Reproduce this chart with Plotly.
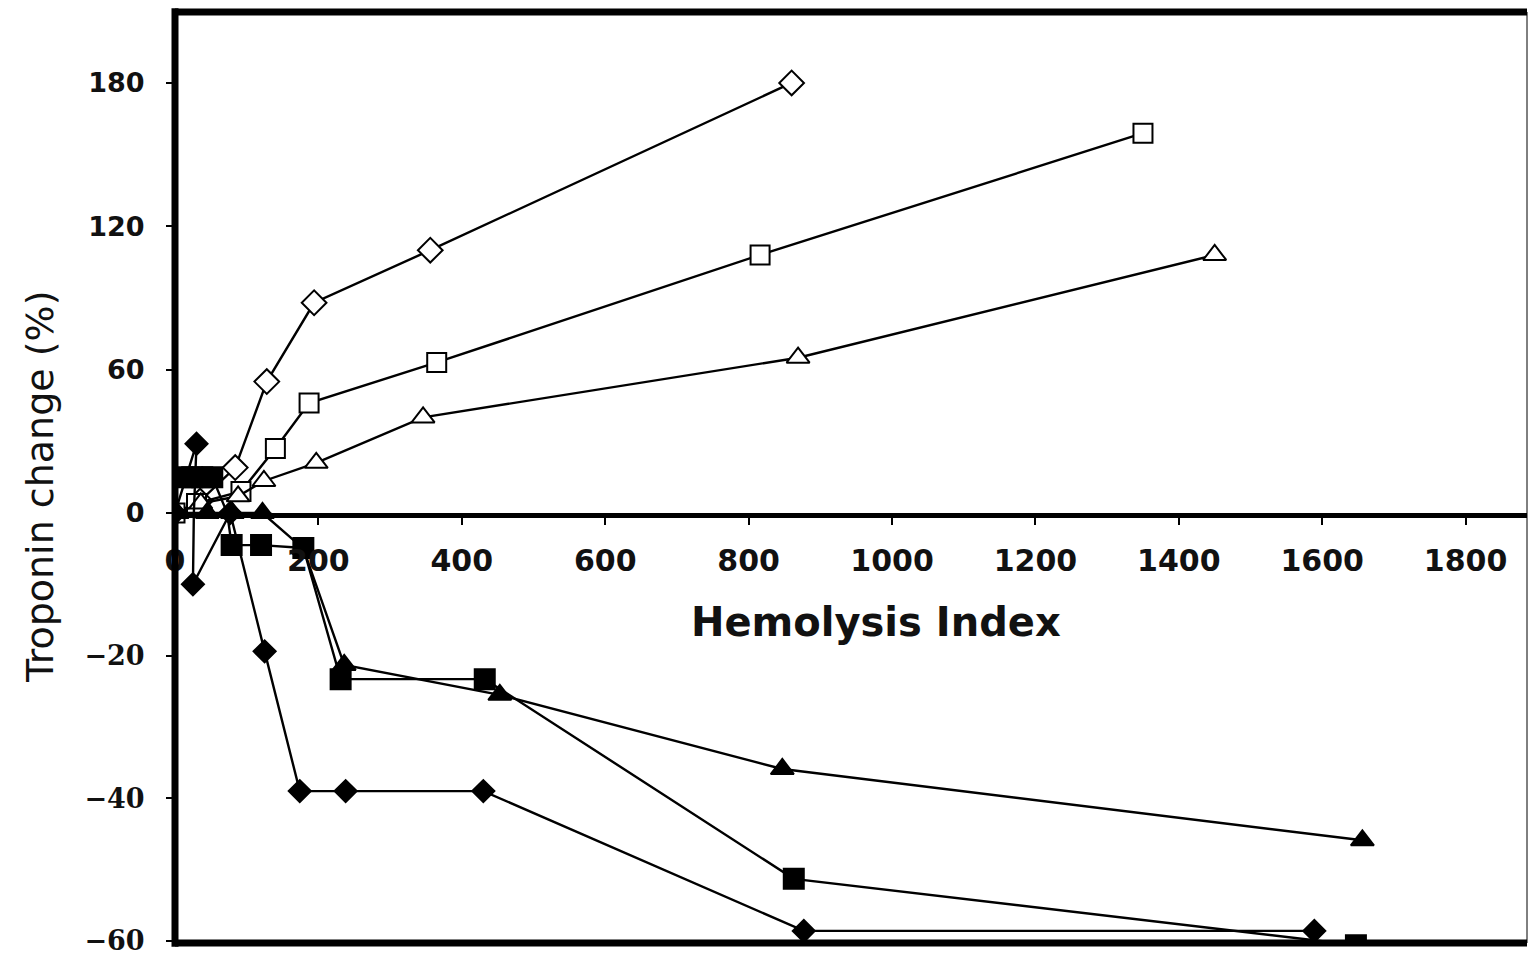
import plotly.graph_objects as go

# ---- data ----
hemolysis_open_diamond = [0, 35, 84, 128, 194, 356, 860]
change_open_diamond = [0, 5, 19, 55, 88, 110, 180]

hemolysis_open_square = [0, 30, 92, 140, 187, 365, 816, 1350]
change_open_square = [0, 4, 9, 27, 46, 63, 108, 159]

hemolysis_open_triangle = [3, 36, 88, 124, 197, 346, 869, 1450]
change_open_triangle = [0, 4, 7, 13.4, 21, 40, 65, 108]

hemolysis_solid_diamond = [0, 30, 25, 77, 125, 174, 238, 430, 877, 1589]
change_solid_diamond = [0, 29, -10, 0, -19.4, -39, -39, -39, -58.6, -58.6]

hemolysis_solid_square = [10, 24, 38, 52, 79, 120, 179, 231, 432, 863, 1647]
change_solid_square = [15, 15, 15, 15, -4.5, -4.5, -4.9, -23.3, -23.3, -51.3, -60.6]

hemolysis_solid_triangle = [0, 45, 80, 122, 179, 236, 453, 847, 1656]
change_solid_triangle = [0, 0, 0, 0, -5, -21.3, -25.5, -35.9, -45.9]

x_ticks = [0, 200, 400, 600, 800, 1000, 1200, 1400, 1600, 1800]
upper_ticks = [0, 60, 120, 180]
lower_ticks = [-20, -40, -60]
lower_tick_text = ["\u221220", "\u221240", "\u221260"]

# ---- figure geometry ----
W, H = 1528, 955
ML, MR, MT, MB = 175, 1, 12, 12
plot_h = H - MT - MB
split = 430 / plot_h  # lower (negative) part of the broken axis

fig = go.Figure()

def add_series(xs, ys, symbol, fill, size):
    for yax in ("y2", "y"):
        fig.add_trace(go.Scatter(
            x=xs, y=ys, yaxis=yax, xaxis="x", mode="lines+markers",
            line=dict(color="black", width=2.4),
            marker=dict(symbol=symbol, size=size, color=fill,
                        line=dict(color="black", width=2)),
            showlegend=False, cliponaxis=True, hoverinfo="x+y"))

add_series(hemolysis_open_diamond, change_open_diamond, "diamond", "white", 19)
add_series(hemolysis_open_square, change_open_square, "square", "white", 19)
add_series(hemolysis_open_triangle, change_open_triangle, "triangle-up", "white", 20)
add_series(hemolysis_solid_diamond, change_solid_diamond, "diamond", "black", 17)
add_series(hemolysis_solid_square, change_solid_square, "square", "black", 20)
add_series(hemolysis_solid_triangle, change_solid_triangle, "triangle-up", "black", 20)

tick_font = dict(family="DejaVu Sans", size=27, color="#111", weight="bold")

fig.update_layout(
    width=W, height=H,
    margin=dict(l=ML, r=MR, t=MT, b=MB, autoexpand=False),
    paper_bgcolor="white", plot_bgcolor="white",
    xaxis=dict(range=[0, 1885.6], anchor="y2", tickvals=x_ticks,
               ticks="outside", ticklen=7, tickwidth=2, tickcolor="black",
               showline=True, linewidth=5, linecolor="black",
               showgrid=False, zeroline=False, ticklabelstandoff=10,
               tickfont=dict(family="DejaVu Sans", size=30, color="#111", weight="bold")),
    yaxis2=dict(domain=[split, 1], range=[0, 209.7], anchor="x",
                tickvals=upper_ticks, ticks="outside", ticklen=8, tickwidth=2,
                tickcolor="black", showline=False, showgrid=False, zeroline=False,
                ticklabelstandoff=16, tickfont=tick_font),
    yaxis=dict(domain=[0, split], range=[-60.3, 0], anchor="x",
               tickvals=lower_ticks, ticktext=lower_tick_text,
               ticks="outside", ticklen=8, tickwidth=2, tickcolor="black",
               showline=False, showgrid=False, zeroline=False,
               ticklabelstandoff=16, ticklabeloverflow="allow",
               tickfont=dict(family="DejaVu Serif", size=27, color="#111", weight="bold")),
    shapes=[
        dict(type="line", xref="paper", yref="paper", x0=0, x1=0, y0=-0.004, y1=1.004,
             line=dict(color="black", width=7)),
        dict(type="line", xref="paper", yref="paper", x0=0, x1=1, y0=1, y1=1,
             line=dict(color="black", width=7)),
        dict(type="line", xref="paper", yref="paper", x0=0, x1=1, y0=0, y1=0,
             line=dict(color="black", width=7)),
        dict(type="line", xref="paper", yref="paper", x0=1, x1=1, y0=0, y1=1,
             line=dict(color="black", width=1)),
    ],
    annotations=[
        dict(text="Hemolysis Index", xref="paper", yref="paper",
             x=(876 - ML) / (W - ML - MR), y=(H - MB - 622) / plot_h,
             xanchor="center", yanchor="middle", showarrow=False,
             font=dict(family="DejaVu Sans", size=40, color="#111", weight="bold")),
        dict(text="Troponin change (%)", xref="paper", yref="paper",
             x=(40 - ML) / (W - ML - MR), y=(H - MB - 487) / plot_h,
             xanchor="center", yanchor="middle", textangle=-90, showarrow=False,
             font=dict(family="DejaVu Sans", size=38, color="#111")),
    ],
)

fig.write_html("out.html")
